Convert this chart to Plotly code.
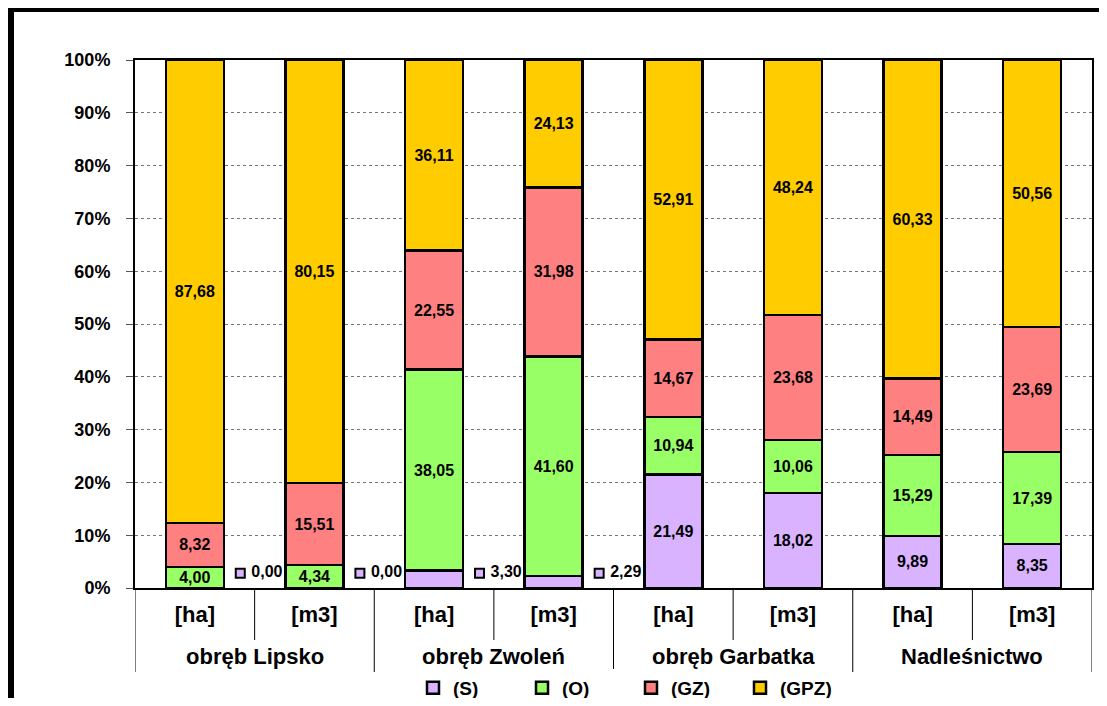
import plotly.graph_objects as go

# ---- data ----
groups = ["obręb Lipsko", "obręb Zwoleń", "obręb Garbatka", "Nadleśnictwo"]
categories = ["[ha]", "[m3]", "[ha]", "[m3]", "[ha]", "[m3]", "[ha]", "[m3]"]
series_names = ["(S)", "(O)", "(GZ)", "(GPZ)"]
S = [0.00, 0.00, 3.30, 2.29, 21.49, 18.02, 9.89, 8.35]
O = [4.00, 4.34, 38.05, 41.60, 10.94, 10.06, 15.29, 17.39]
GZ = [8.32, 15.51, 22.55, 31.98, 14.67, 23.68, 14.49, 23.69]
GPZ = [87.68, 80.15, 36.11, 24.13, 52.91, 48.24, 60.33, 50.56]
y_ticks = [0, 10, 20, 30, 40, 50, 60, 70, 80, 90, 100]
y_ticktext = [f"{v}%" for v in y_ticks]

colors = ["#D9B3FF", "#99FF66", "#FF8080", "#FFCC00"]

# page body has an 8px margin; the figure fills the rest of the 1107x706 window
OFF = 8
W, H = 1107 - 2 * OFF, 706 - 2 * OFF
ML, MT = 135 - OFF, 60 - OFF
MR = W - (1092 - OFF)
MB = H - (588 - OFF)
PW, PH = W - ML - MR, H - MT - MB


def px2paper_x(px):  # px in window coordinates
    return (px - OFF - ML) / PW


def px2paper_y(py):
    return (H - MB - (py - OFF)) / PH


def fmt(v):
    return f"{v:.2f}".replace(".", ",")


xpos = list(range(len(categories)))
label_font = dict(family="Liberation Sans, Arial", size=16, color="black", weight="bold")
fig = go.Figure()
for name, vals, col in zip(series_names, [S, O, GZ, GPZ], colors):
    if name == "(S)":
        txt = [fmt(v) if v >= 5 else "" for v in vals]
    else:
        txt = [fmt(v) for v in vals]
    fig.add_trace(go.Bar(
        x=xpos, y=vals, name=name, width=0.485,
        marker=dict(color=col, line=dict(color="black", width=2.5)),
        text=txt, textposition="inside", insidetextanchor="middle",
        textangle=0, textfont=label_font, constraintext="none",
        cliponaxis=False, hoverinfo="skip",
    ))

# small S values labelled outside, with legend key
small_idx = [i for i, v in enumerate(S) if v < 5]
fig.add_trace(go.Scatter(
    x=[i + 0.38 for i in small_idx], y=[2.8] * len(small_idx),
    mode="markers+text",
    marker=dict(symbol="square", size=9, color=colors[0],
                line=dict(color="black", width=2)),
    text=[" " + fmt(S[i]) for i in small_idx], textposition="middle right",
    textfont=label_font, showlegend=False, cliponaxis=False, hoverinfo="skip",
))

shapes = []
# outer frame (top and left edges visible in the window)
shapes.append(dict(type="line", xref="paper", yref="paper",
                   x0=px2paper_x(7), x1=px2paper_x(1107 - OFF),
                   y0=px2paper_y(9.5), y1=px2paper_y(9.5),
                   line=dict(color="black", width=5), layer="above"))
shapes.append(dict(type="line", xref="paper", yref="paper",
                   x0=px2paper_x(10.5), x1=px2paper_x(10.5),
                   y0=px2paper_y(7), y1=px2paper_y(706 - OFF),
                   line=dict(color="black", width=7), layer="above"))
# dividers below the category axis
for b in range(len(categories) + 1):
    xb = b - 0.5
    long_line = (b % 2 == 0)
    shapes.append(dict(type="line", xref="x", yref="paper",
                       x0=xb, x1=xb, y0=0,
                       y1=px2paper_y(672 if long_line else 640),
                       line=dict(color="black", width=1)))

annotations = []
for gi, g in enumerate(groups):
    annotations.append(dict(x=gi * 2 + 0.5, xref="x", y=px2paper_y(656), yref="paper",
                            text=g, showarrow=False, yanchor="middle",
                            font=dict(family="Liberation Sans, Arial", size=22,
                                      color="black", weight="bold")))

fig.update_layout(
    width=W, height=H,
    margin=dict(l=ML, r=MR, t=MT, b=MB, autoexpand=False),
    barmode="stack", bargap=0.515,
    plot_bgcolor="white", paper_bgcolor="white",
    showlegend=True,
    legend=dict(orientation="h", x=px2paper_x(413), y=px2paper_y(688),
                xanchor="left", yanchor="middle",
                entrywidth=64, entrywidthmode="pixels",
                itemwidth=30, traceorder="normal",
                font=dict(family="Liberation Sans, Arial",
                          size=19, color="black", weight="bold")),
    shapes=shapes, annotations=annotations,
    xaxis=dict(range=[-0.5, len(categories) - 0.5], tickvals=xpos, ticktext=categories,
               showline=True, linecolor="black", linewidth=2, mirror=True,
               ticks="", showgrid=False, zeroline=False, ticklabelstandoff=6,
               tickfont=dict(family="Liberation Sans, Arial", size=22, color="black",
                             weight="bold")),
    yaxis=dict(range=[0, 100.02], tickvals=y_ticks, ticktext=y_ticktext,
               showline=True, linecolor="black", linewidth=2, mirror=True,
               ticks="outside", ticklen=7, tickcolor="#555555", tickwidth=1,
               ticklabelstandoff=12,
               showgrid=True, gridcolor="#777777", griddash="dot", gridwidth=1,
               zeroline=False,
               tickfont=dict(family="Liberation Sans, Arial", size=18, color="black",
                             weight="bold")),
)

fig.write_html("out.html")
